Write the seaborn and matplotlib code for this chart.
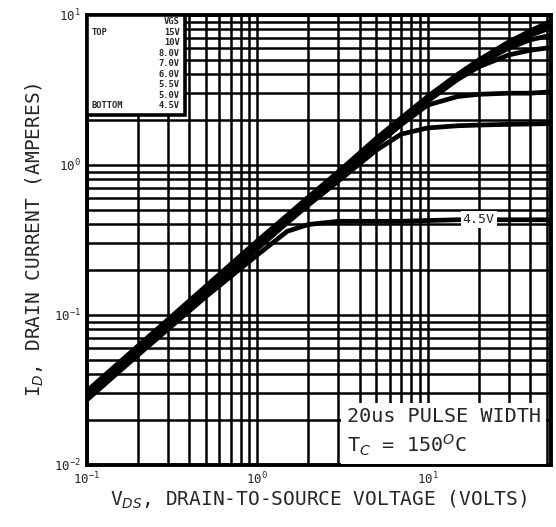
import numpy as np
import pandas as pd
import seaborn as sn
import matplotlib
matplotlib.use("Agg")
import matplotlib.pyplot as plt
from matplotlib.patches import Rectangle
from matplotlib.ticker import LogLocator, NullFormatter

# V_DS points (volts) shared by every curve
vds = [0.1, 0.2, 0.5, 1, 1.5, 2, 3, 5, 7, 10, 15, 20, 30, 40, 50, 55]

# I_D (amperes), one list per V_GS
id_15v = [0.031, 0.062, 0.155, 0.31, 0.46, 0.61, 0.90, 1.50, 2.05, 2.85, 4.0, 5.0, 6.6, 7.8, 8.8, 9.3]
id_10v = [0.030, 0.060, 0.150, 0.30, 0.45, 0.60, 0.88, 1.46, 2.00, 2.80, 3.9, 4.9, 6.4, 7.6, 8.5, 8.9]
id_8v = [0.030, 0.059, 0.148, 0.295, 0.44, 0.59, 0.87, 1.44, 1.97, 2.75, 3.85, 4.8, 6.2, 7.3, 8.0, 8.3]
id_7v = [0.029, 0.058, 0.145, 0.29, 0.43, 0.58, 0.85, 1.42, 1.93, 2.70, 3.8, 4.7, 6.0, 6.8, 7.2, 7.3]
id_6v = [0.029, 0.057, 0.143, 0.285, 0.43, 0.57, 0.84, 1.40, 1.90, 2.65, 3.7, 4.5, 5.4, 5.8, 6.0, 6.1]
id_55v = [0.028, 0.056, 0.140, 0.28, 0.42, 0.56, 0.82, 1.35, 1.85, 2.50, 2.85, 2.95, 3.0, 3.0, 3.05, 3.05]
id_5v = [0.028, 0.055, 0.138, 0.275, 0.41, 0.54, 0.78, 1.25, 1.60, 1.76, 1.82, 1.84, 1.86, 1.87, 1.88, 1.88]
id_45v = [0.027, 0.054, 0.132, 0.25, 0.36, 0.40, 0.42, 0.42, 0.42, 0.425, 0.43, 0.43, 0.43, 0.43, 0.43, 0.43]

vgs_labels = ["15V", "10V", "8.0V", "7.0V", "6.0V", "5.5V", "5.0V", "4.5V"]
curves = [id_15v, id_10v, id_8v, id_7v, id_6v, id_55v, id_5v, id_45v]

frames = []
for lab, ids in zip(vgs_labels, curves):
    frames.append(pd.DataFrame({"vds": vds, "id": ids, "vgs": lab}))
df = pd.concat(frames, ignore_index=True)

sn.set_style("white")
plt.rcParams["font.family"] = ["DejaVu Sans Mono", "DejaVu Sans"]

fig = plt.figure(figsize=(5.56, 5.27), dpi=100)
ax = fig.add_axes([0.156, 0.118, 0.835, 0.854])

sn.lineplot(data=df, x="vds", y="id", hue="vgs", palette=["black"] * len(vgs_labels),
            legend=False, linewidth=3.4, ax=ax, zorder=3, sort=True)

ax.set_xscale("log")
ax.set_yscale("log")
ax.set_xlim(0.1, 53)
ax.set_ylim(0.01, 10)

# log grid, major and minor drawn the same
ax.xaxis.set_minor_locator(LogLocator(base=10, subs=np.arange(2, 10)))
ax.yaxis.set_minor_locator(LogLocator(base=10, subs=np.arange(2, 10)))
ax.xaxis.set_minor_formatter(NullFormatter())
ax.yaxis.set_minor_formatter(NullFormatter())
ax.grid(True, which="both", color="black", linewidth=1.8)
ax.tick_params(which="both", length=0, labelsize=9, pad=4)
for s in ax.spines.values():
    s.set_linewidth(2.8)
    s.set_color("black")

ax.set_xlabel("V$_{DS}$, DRAIN-TO-SOURCE VOLTAGE (VOLTS)", fontsize=14, labelpad=1)
ax.set_ylabel("I$_D$, DRAIN CURRENT (AMPERES)", fontsize=14, labelpad=6)

# V_GS key box in the top left corner
ax.add_patch(Rectangle((0, 0.778), 0.212, 0.222, transform=ax.transAxes,
                       facecolor="white", edgecolor="black", linewidth=2.6, zorder=5))
key_y = np.linspace(0.984, 0.798, 9)
ax.text(0.2, key_y[0], "VGS", transform=ax.transAxes, ha="right", va="center",
        fontsize=6.3, fontweight="bold", zorder=6)
for yy, lab in zip(key_y[1:], vgs_labels):
    ax.text(0.2, yy, lab, transform=ax.transAxes, ha="right", va="center",
            fontsize=6.3, fontweight="bold", zorder=6)
ax.text(0.01, key_y[1], "TOP", transform=ax.transAxes, ha="left", va="center",
        fontsize=6.3, fontweight="bold", zorder=6)
ax.text(0.01, key_y[-1], "BOTTOM", transform=ax.transAxes, ha="left", va="center",
        fontsize=6.3, fontweight="bold", zorder=6)

# label on the 4.5V curve
ax.text(20, 0.43, "4.5V", ha="center", va="center", fontsize=9.5, zorder=6,
        bbox=dict(facecolor="white", edgecolor="none", pad=1.5))

# test condition note
ax.text(0.56, 0.015, "20us PULSE WIDTH\nT$_C$ = 150$^O$C", transform=ax.transAxes,
        ha="left", va="bottom", multialignment="left", fontsize=14.5,
        linespacing=1.35, zorder=6,
        bbox=dict(facecolor="white", edgecolor="none", pad=4))

fig.savefig("out.png", dpi=100)
